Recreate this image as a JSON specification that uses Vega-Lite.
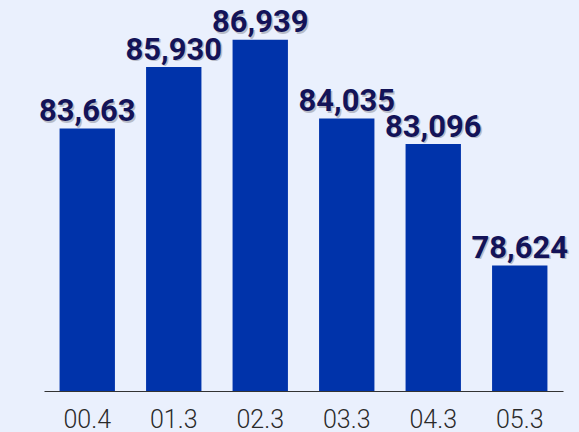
{
  "$schema": "https://vega.github.io/schema/vega-lite/v6.json",
  "width": 519,
  "height": 391,
  "autosize": {"type": "none"},
  "padding": {"left": 44, "top": 0, "right": 16, "bottom": 41},
  "background": "#eaf0fd",
  "config": {"view": {"stroke": null}},
  "data": {"values": [
    {"period": "00.4", "value": 83663},
    {"period": "01.3", "value": 85930},
    {"period": "02.3", "value": 86939},
    {"period": "03.3", "value": 84035},
    {"period": "04.3", "value": 83096},
    {"period": "05.3", "value": 78624}
  ]},
  "encoding": {
    "x": {"field": "period", "type": "nominal", "sort": null,
      "scale": {"paddingInner": 0.36, "paddingOuter": 0.18},
      "axis": {"title": null, "ticks": false, "labelAngle": 0, "labelFont": "Roboto", "labelFontWeight": 300, "labelFontSize": 25, "labelColor": "#2a2a2a", "labelBaseline": "alphabetic", "labelPadding": 36, "domainColor": "#333333", "domainWidth": 1.2}},
    "y": {"field": "value", "type": "quantitative", "scale": {"domain": [74000, 88400], "zero": false, "nice": false}, "axis": null}
  },
  "layer": [
    {"mark": {"type": "bar", "color": "#0033aa", "clip": true}},
    {"mark": {"type": "text", "font": "Roboto", "fontWeight": "bold", "fontSize": 31, "baseline": "alphabetic", "dy": -6, "dx": 1.5, "color": "#b8bcc8"},
      "encoding": {"text": {"field": "value", "type": "quantitative", "format": ","}}},
    {"mark": {"type": "text", "font": "Roboto", "fontWeight": "bold", "fontSize": 31, "baseline": "alphabetic", "dy": -7.5, "color": "#131358"},
      "encoding": {"text": {"field": "value", "type": "quantitative", "format": ","}}}
  ]
}
